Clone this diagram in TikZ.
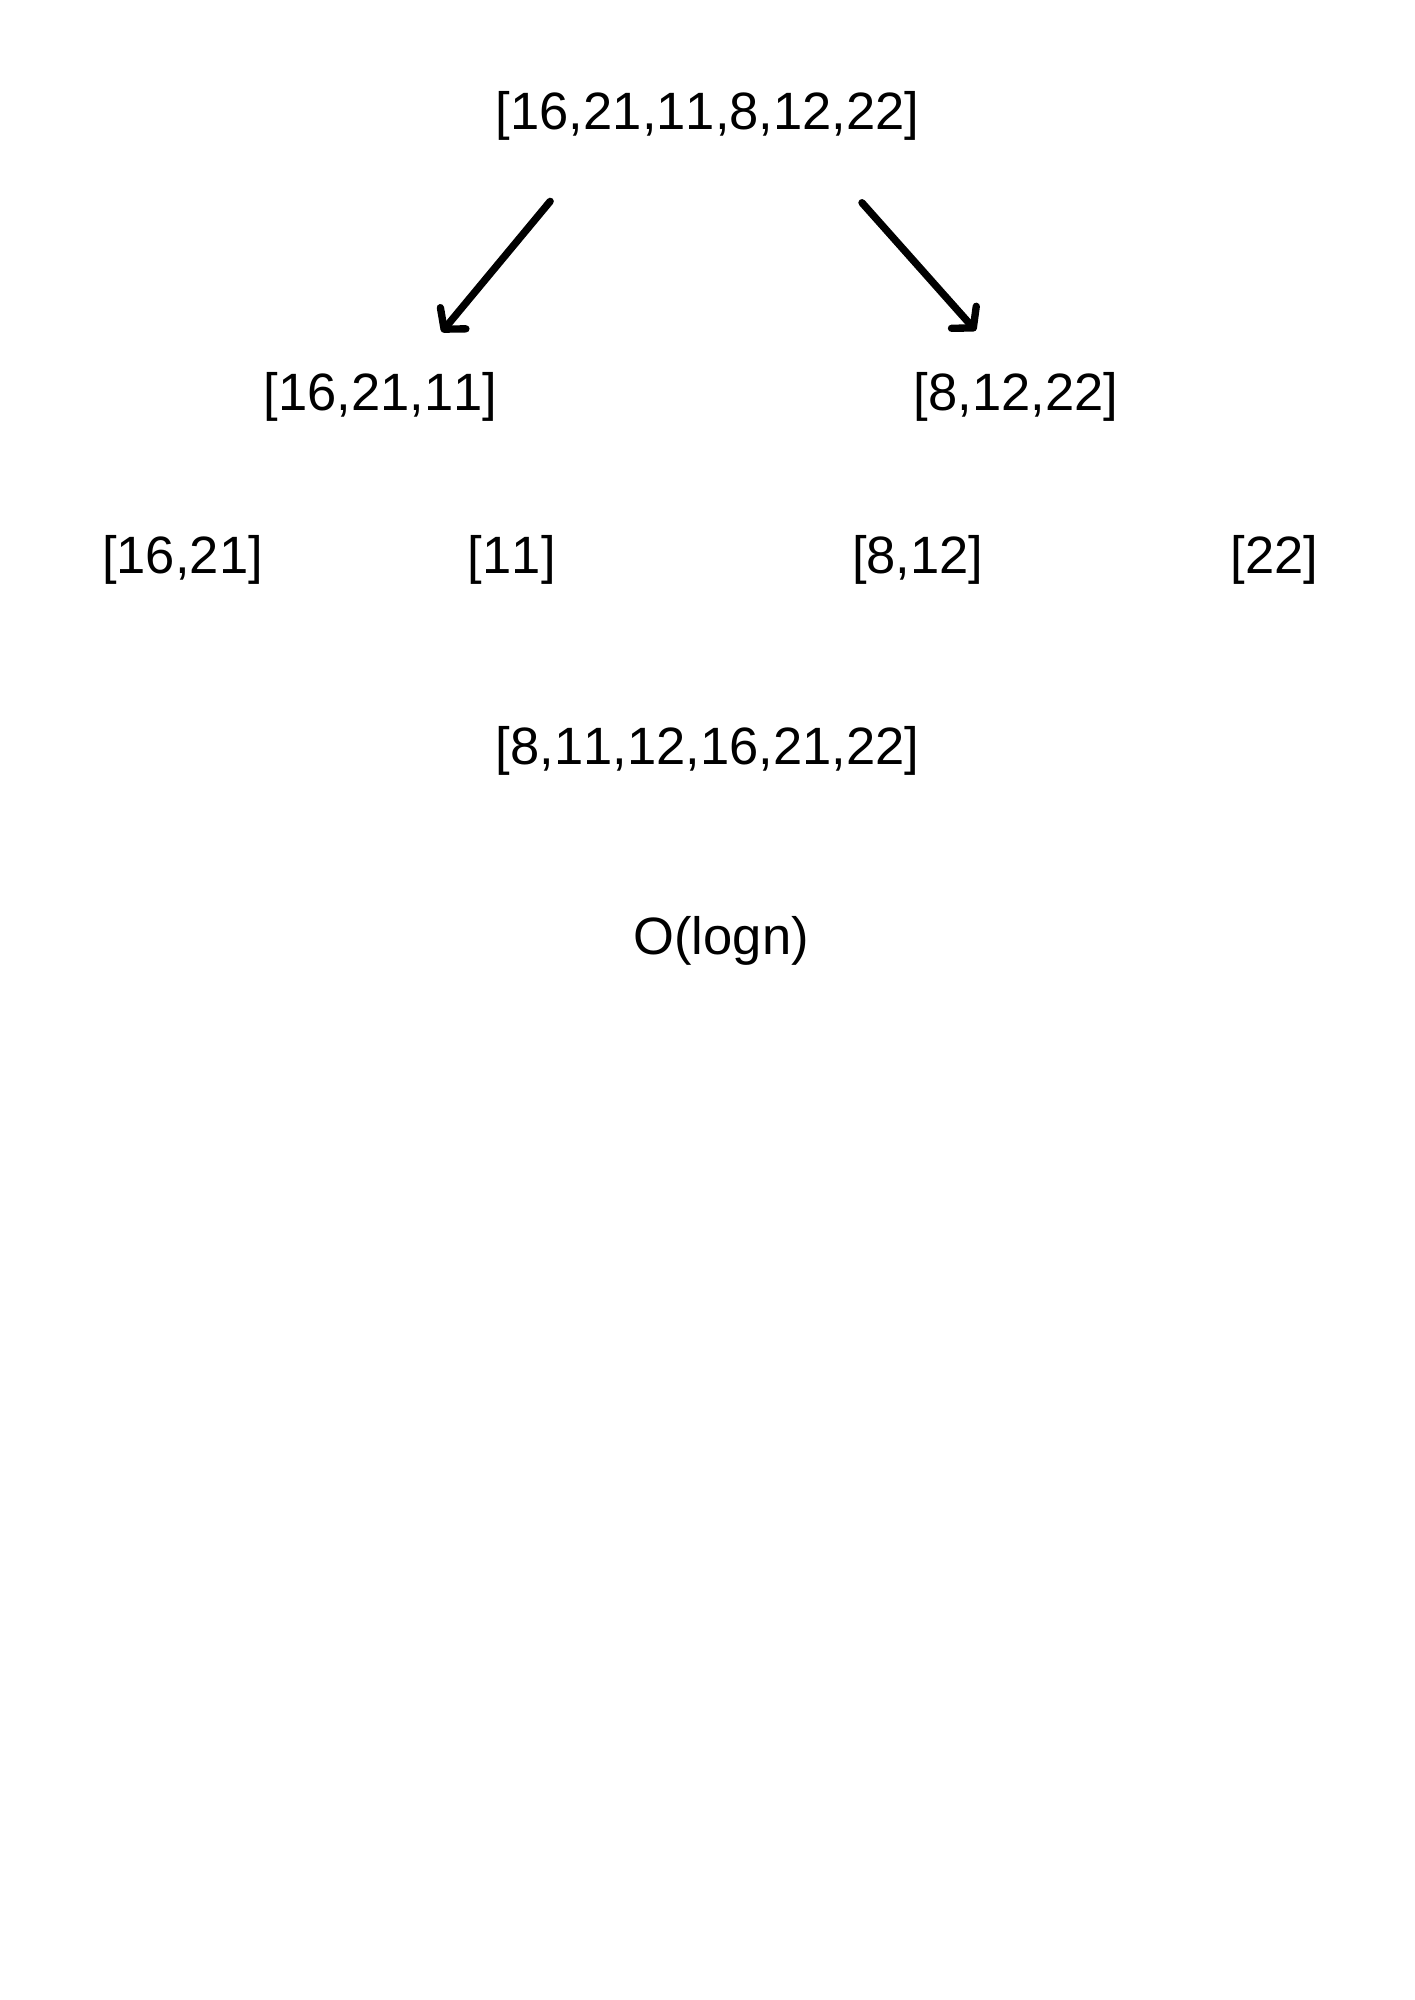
\documentclass[tikz,border=0pt]{standalone}
\usepackage{fontspec}
\setmainfont[Kerning=Off]{Liberation Sans}
\usetikzlibrary{arrows.meta,positioning}
\tikzset{
    cell/.style={
        anchor=base,inner sep=0pt,
        font=\fontsize{22.2}{27}\selectfont
    },
    splitarrow/.style={
        -{Straight Barb[length=6pt,width=14pt,round]},
        line width=3.1pt,line cap=round
    }
}

\begin{document}
\begin{tikzpicture}

\useasboundingbox (0,0) rectangle (21,-29.7);

\node[cell] (all) at (10.51,-1.93) {[16,21,11,8,12,22]};

\node[cell] (lhalf) at (5.65,-6.09) {[16,21,11]};
\node[cell] (rhalf) at (15.09,-6.09) {[8,12,22]};

\node[cell] (ll) at (2.71,-8.52) {[16,21]};
\node[cell] (lr) at (7.60,-8.52) {[11]};
\node[cell] (rl) at (13.63,-8.52) {[8,12]};
\node[cell] (rr) at (18.93,-8.52) {[22]};

\node[cell] (sorted) at (10.51,-11.36) {[8,11,12,16,21,22]};

\node[cell] (cost) at (10.71,-14.17) {O(logn)};

\coordinate (lfrom) at (8.17,-2.99);
\coordinate (lto) at (6.56,-4.93);
\coordinate (rfrom) at (12.80,-3.01);
\coordinate (rto) at (14.49,-4.91);

\draw[splitarrow] (lfrom)--(lto);
\draw[splitarrow] (rfrom)--(rto);

\end{tikzpicture}
\end{document}
